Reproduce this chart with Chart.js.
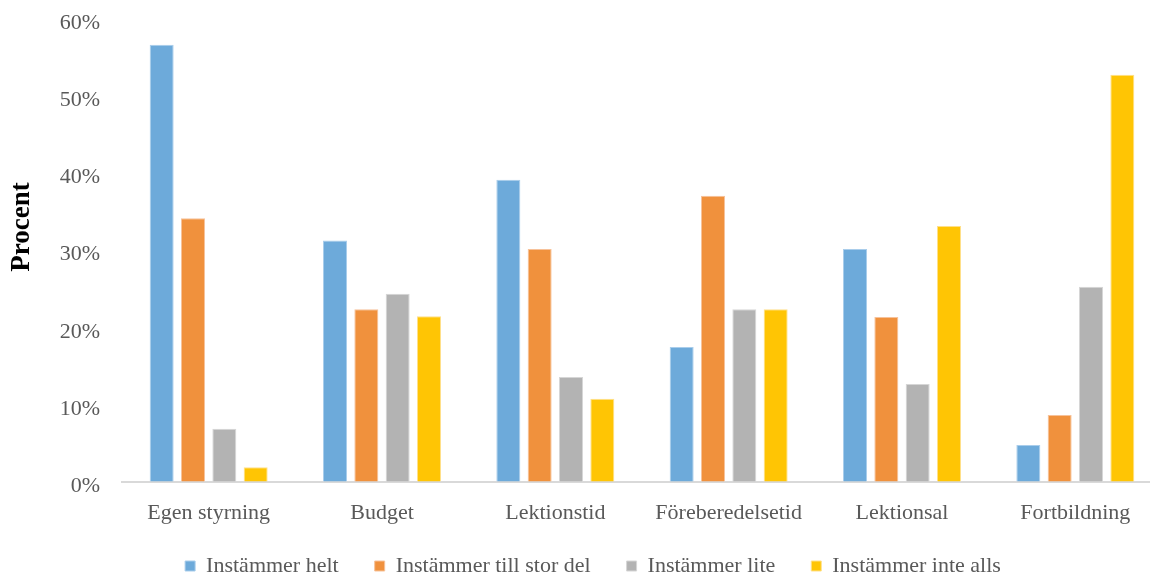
<!DOCTYPE html>
<html>
<head>
<meta charset="utf-8">
<script src="https://cdn.jsdelivr.net/npm/chart.js@4/dist/chart.umd.min.js"></script>
<style>
html,body{margin:0;padding:0;background:#fff;overflow:hidden;}
#wrap{width:1186px;height:577px;position:relative;}
</style>
</head>
<body>
<div id="wrap"><canvas id="c"></canvas></div>
<script>
const categories = ["Egen styrning","Budget","Lektionstid","Föreberedelsetid","Lektionsal","Fortbildning"];
const seriesNames = ["Instämmer helt","Instämmer till stor del","Instämmer lite","Instämmer inte alls"];
const helt = [56.7, 31.3, 39.2, 17.5, 30.2, 4.8];
const tillStorDel = [34.2, 22.4, 30.2, 37.1, 21.4, 8.7];
const lite = [6.9, 24.4, 13.6, 22.4, 12.7, 25.3];
const inteAlls = [1.9, 21.5, 10.8, 22.4, 33.2, 52.8];
const yTicks = [0,10,20,30,40,50,60];
const yTitle = "Procent";

const colors = ['#6DAADA','#F0913D','#B3B3B3','#FFC504'];
const borders = ['#A9CDEB','#F7C29A','#D6D6D6','#FFE08A'];
const values = [helt, tillStorDel, lite, inteAlls];
const font = "'Liberation Serif', 'Times New Roman', serif";
Chart.defaults.font.family = font;

const titlePlugin = {
  id: 'yTitle',
  afterDraw(chart) {
    const ctx = chart.ctx;
    ctx.save();
    ctx.translate(22, 227);
    ctx.rotate(-Math.PI / 2);
    ctx.font = "bold 27px " + font;
    ctx.fillStyle = '#000';
    ctx.textAlign = 'center';
    ctx.textBaseline = 'middle';
    ctx.fillText(yTitle, 0, 0);
    ctx.restore();
  }
};

const legendFix = {
  id: 'legendFix',
  beforeLayout(chart) {
    const lg = chart.legend;
    if (lg && !lg._patched) {
      const f = lg.fit;
      lg.fit = function() { f.call(this); this.height = 52; };
      lg._patched = true;
    }
  },
  afterLayout(chart) {
    const lg = chart.legend;
    if (lg) { lg.left += 12; lg.right += 12; lg.top -= 6; }
  }
};

new Chart(document.getElementById('c'), {
  type: 'bar',
  data: {
    labels: categories,
    datasets: seriesNames.map((n,i)=>({
      label: n,
      data: values[i],
      backgroundColor: colors[i],
      borderColor: borders[i],
      borderWidth: 1,
      categoryPercentage: 0.723,
      barPercentage: 0.766
    }))
  },
  plugins: [titlePlugin, legendFix],
  options: {
    responsive: true,
    maintainAspectRatio: false,
    animation: false,
    layout: {padding: {left: 0, right: 24, top: 0, bottom: 0}},
    plugins: {
      legend: {
        position: 'bottom',
        labels: {
          boxWidth: 10, boxHeight: 10, padding: 36,
          color: '#595959',
          font: {family: font, size: 22}
        }
      },
      tooltip: {enabled: false}
    },
    scales: {
      x: {
        grid: {display: false, drawTicks: false},
        border: {display: true, color: '#D9D9D9', width: 2},
        afterFit: (s) => { s.height = 43; },
        ticks: {color: '#595959', font: {family: font, size: 22}, padding: 18, maxRotation: 0, autoSkip: false}
      },
      y: {
        min: 0, max: 60,
        afterBuildTicks: (s) => { s.ticks = yTicks.map(v => ({value: v})); },
        afterFit: (s) => { s.width = 122; },
        grid: {display: true, drawOnChartArea: false, drawTicks: true, tickLength: 16, color: 'rgba(0,0,0,0)'},
        border: {display: false},
        ticks: {color: '#595959', font: {family: font, size: 22}, padding: 6, labelOffset: 4, callback: v => v + '%'}
      }
    }
  }
});
</script>
</body>
</html>
